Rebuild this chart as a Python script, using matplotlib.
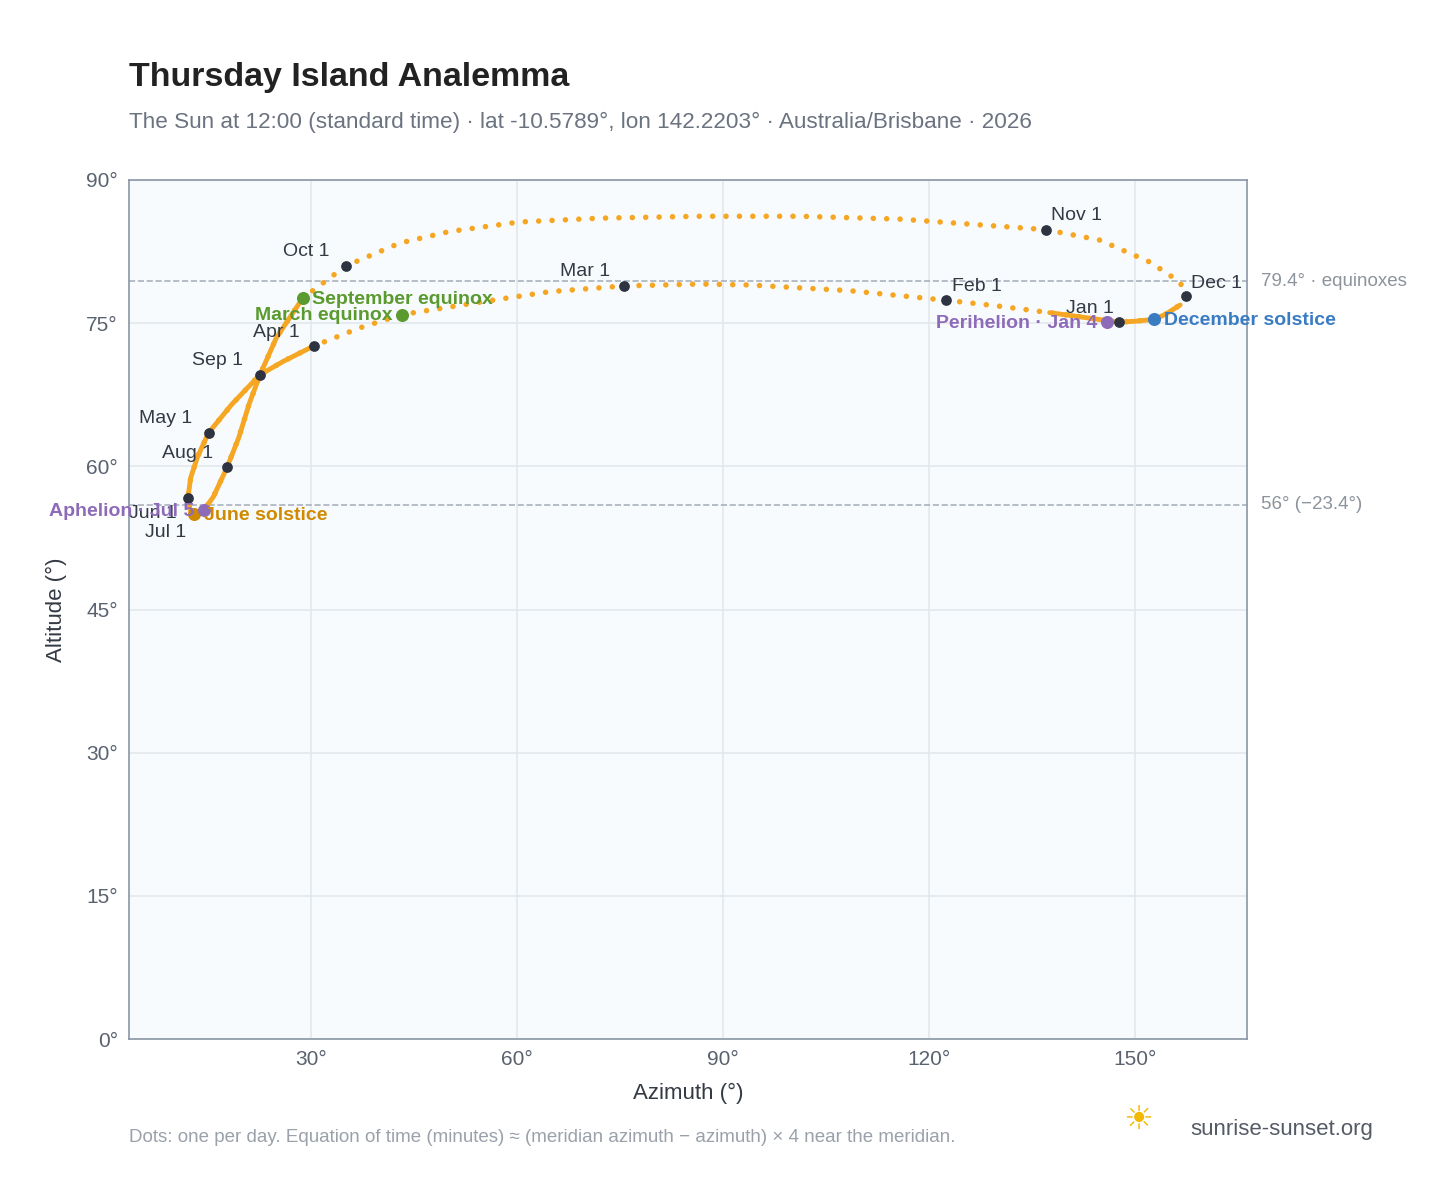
import matplotlib.pyplot as plt

plt.rcParams['font.family'] = ['Liberation Sans', 'DejaVu Sans']

# daily track (azimuth deg, altitude deg), Jan 1 -> Dec 31
track_az = [147.7, 137.6, 130.0, 122.5, 108.5, 93.9, 86.7, 75.6, 64.8, 54.6, 43.3, 37.1,
            30.4, 26.0, 22.6, 18.5, 15.1, 13.5, 12.5, 12.1, 12.3, 12.6, 13.0, 14.4, 15.8,
            17.8, 19.5, 21.0, 22.6, 25.0, 28.8, 35.1, 43.0, 50.2, 60.4, 72.1, 86.7, 101.2,
            115.8, 127.4, 137.0, 144.9, 152.2, 156.6, 157.4, 156.6, 154.4, 152.8, 150.0, 147.7]
track_alt = [75.1, 76.1, 76.8, 77.4, 78.4, 79.0, 79.1, 78.9, 78.3, 77.2, 75.9, 74.5,
             72.6, 71.0, 69.6, 66.5, 63.5, 61.0, 58.8, 56.7, 55.8, 55.1, 55.0, 55.4, 56.8,
             59.9, 63.0, 66.5, 69.6, 73.5, 77.6, 81.0, 83.4, 84.6, 85.6, 86.0, 86.2, 86.2,
             85.9, 85.3, 84.8, 83.7, 81.4, 79.3, 77.8, 76.9, 75.9, 75.4, 75.2, 75.1]

months = ['Jan 1', 'Feb 1', 'Mar 1', 'Apr 1', 'May 1', 'Jun 1', 'Jul 1', 'Aug 1',
          'Sep 1', 'Oct 1', 'Nov 1', 'Dec 1']
month_az = [147.7, 122.5, 75.6, 30.4, 15.1, 12.1, 13.0, 17.8, 22.6, 35.1, 137.0, 157.4]
month_alt = [75.1, 77.4, 78.9, 72.6, 63.5, 56.7, 55.0, 59.9, 69.6, 81.0, 84.8, 77.8]
month_off = [(-4, 4), (4, 4), (-10, 4), (-10, 4), (-12, 4), (-8, -5), (-6, -7), (-10, 4),
             (-12, 4), (-12, 4), (4, 4), (4, 3)]

events = ['March equinox', 'June solstice', 'September equinox', 'December solstice',
          'Perihelion · Jan 4', 'Aphelion · Jul 5']
event_az = [43.3, 13.0, 28.8, 152.8, 145.9, 14.4]
event_alt = [75.9, 55.0, 77.6, 75.4, 75.1, 55.4]
event_col = ['#5a9a2e', '#d08a00', '#5a9a2e', '#3a7cc4', '#8e6bb8', '#8e6bb8']
event_side = ['left', 'right', 'right', 'right', 'left', 'left']

fig = plt.figure(figsize=(14.48, 11.88), dpi=100)
ax = fig.add_axes([0.089, 0.1254, 0.772, 0.7231])
ax.set_facecolor('#f8fbfe')
for s in ax.spines.values():
    s.set_color('#8a96a6')
    s.set_linewidth(1.2)

ax.plot(track_az, track_alt, color='#f5a623', lw=4, linestyle=(0, (0.01, 2.4)),
        dash_capstyle='round', zorder=3)
# slow stretches where daily dots merge into a solid band
ax.plot(track_az[12:31], track_alt[12:31], color='#f5a623', lw=3.5, zorder=3, solid_capstyle='round')
ax.plot(track_az[45:] + track_az[:2], track_alt[45:] + track_alt[:2], color='#f5a623', lw=3.5,
        zorder=3, solid_capstyle='round')

for y, lab in [(79.4, '79.4° · equinoxes'), (56.0, '56° (−23.4°)')]:
    ax.axhline(y, color='#aab2bd', ls='--', lw=1.2, zorder=2)
    ax.annotate(lab, (1, y), xycoords=('axes fraction', 'data'), xytext=(10, 0),
                textcoords='offset points', va='center', color='#8c939c', fontsize=13.5)

ax.scatter(month_az, month_alt, s=45, color='#2d3340', zorder=5)
for m, x, y, o in zip(months, month_az, month_alt, month_off):
    ax.annotate(m, (x, y), xytext=o, textcoords='offset points', fontsize=14,
                color='#333a44', ha='right' if o[0] < 0 else 'left', va='bottom' if o[1] > 0 else 'top')

for e, x, y, c, side in zip(events, event_az, event_alt, event_col, event_side):
    ax.scatter([x], [y], s=70, color=c, zorder=6)
    dx = 7 if side == 'right' else -7
    ax.annotate(e, (x, y), xytext=(dx, -1), textcoords='offset points', fontsize=14,
                fontweight='bold', color=c, ha='left' if side == 'right' else 'right',
                va='center', zorder=7)

ax.set_xlim(3.5, 166.3)
ax.set_ylim(0, 90)
ax.set_xticks([30, 60, 90, 120, 150])
ax.set_xticklabels([f'{t}°' for t in [30, 60, 90, 120, 150]])
ax.set_yticks(range(0, 91, 15))
ax.set_yticklabels([f'{t}°' for t in range(0, 91, 15)])
ax.grid(color='#e3e8ee', lw=1.2)
ax.set_axisbelow(True)
ax.tick_params(length=0, labelsize=15, colors='#5a6270', pad=8)
ax.set_xlabel('Azimuth (°)', fontsize=16, color='#333a44', labelpad=10)
ax.set_ylabel('Altitude (°)', fontsize=16, color='#333a44', labelpad=14)

fig.text(0.089, 0.928, 'Thursday Island Analemma', fontsize=24.5, fontweight='bold', color='#222222')
fig.text(0.089, 0.892, 'The Sun at 12:00 (standard time) · lat -10.5789°, lon 142.2203° · Australia/Brisbane · 2026',
         fontsize=16.2, color='#6b7280')
fig.text(0.089, 0.039, 'Dots: one per day. Equation of time (minutes) ≈ (meridian azimuth − azimuth) × 4 near the meridian.',
         fontsize=13.5, color='#9aa1ab')
fig.text(0.822, 0.045, 'sunrise-sunset.org', fontsize=16, color='#555b66')
fig.text(0.776, 0.057, '☀', fontsize=24, color='#f5b800', va='center', family='DejaVu Sans')

fig.savefig('out.png', dpi=100)
